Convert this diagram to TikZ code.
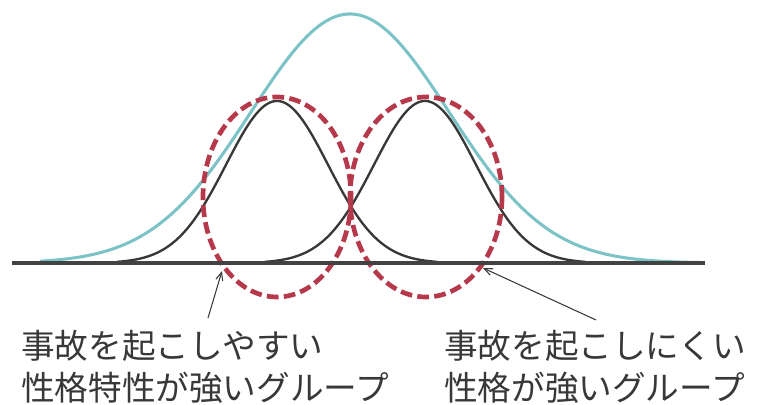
\documentclass[tikz,border=0pt]{standalone}
\usepackage{fontspec}
\newfontfamily\jpfont{Noto Sans CJK JP}
\usetikzlibrary{arrows.meta}
\definecolor{bellblue}{HTML}{7CC3C8}
\definecolor{groupred}{HTML}{B5394A}
\definecolor{inkgray}{HTML}{383838}
\begin{document}
\begin{tikzpicture}[x=0.03cm, y=-0.03cm, >={Straight Barb[length=7pt,width=6pt]},
  declare function={gauss(\x,\c,\s)=exp(-0.5*((\x-\c)/\s)^2);},
  whole/.style={bellblue, line width=2.6pt},
  part/.style={inkgray, line width=2pt},
  group/.style={groupred, line width=4pt, dash pattern=on 10pt off 4.5pt},
  caption/.style={inkgray, align=left, inner sep=0pt, anchor=north west,
    font=\jpfont\fontsize{28.7pt}{35.5pt}\selectfont}]
\useasboundingbox (0,0) rectangle (757,405);
% overall distribution
\draw[whole] plot[domain=40:700, samples=160, smooth] (\x, {263-249*gauss(\x,350,99)});
% two sub-groups
\foreach \c in {277, 425} {
    \draw[part] plot[domain=\c-160:\c+160, samples=120, smooth] (\x, {263-162*gauss(\x,\c,51)});
}
% group circles
\draw[group] (277,197) ellipse [x radius=74, y radius=100];
\draw[group] (426,197) ellipse [x radius=76, y radius=100];
% axis
\draw[inkgray!95, line width=4.2pt] (12,263) -- (705,263);

% labels
\node[caption] (prone) at (21,330) {事故を起こしやすい\\性格特性が強いグループ};
\node[caption] (safe) at (444,330) {事故を起こしにくい\\性格が強いグループ};
\coordinate (prone tail) at (208,318);
\coordinate (prone tip) at (222,271);
\coordinate (safe tail) at (596,320);
\coordinate (safe tip) at (483,268);
\draw[->, inkgray, line width=0.9pt] (prone tail) -- (prone tip);
\draw[->, inkgray, line width=0.9pt] (safe tail) -- (safe tip);
\end{tikzpicture}
\end{document}
